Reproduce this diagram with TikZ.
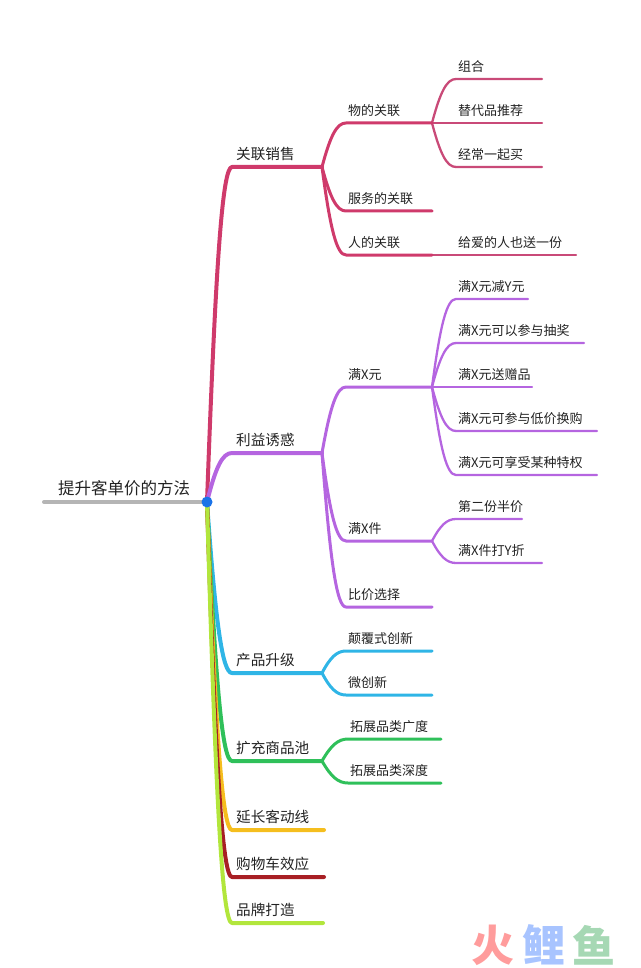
\documentclass[tikz,border=0pt]{standalone}
\usepackage{fontspec}
\setmainfont{Noto Sans CJK SC}
\usetikzlibrary{calc}
\definecolor{cred}{HTML}{CF3A6B}
\definecolor{cred3}{HTML}{C94A78}
\definecolor{cpur}{HTML}{B565E0}
\definecolor{ccya}{HTML}{2FB5E6}
\definecolor{cgre}{HTML}{2FC05A}
\definecolor{cyel}{HTML}{F5BE1E}
\definecolor{cdar}{HTML}{A81F24}
\definecolor{clim}{HTML}{B2E63C}
\definecolor{cgray}{HTML}{B5B5B5}
\definecolor{cdot}{HTML}{1A73E8}
\definecolor{ctxt}{HTML}{222222}
\definecolor{wred}{HTML}{FF9C9C}
\definecolor{wblu}{HTML}{A8C4FF}
\definecolor{wgre}{HTML}{A6D8B4}
\tikzset{
  x=1pt,y=-1pt,
  lab/.style={anchor=west,inner sep=0pt,yshift=-1pt,text=ctxt,font=\fontsize{13}{13}\selectfont},
  labb/.style={anchor=west,inner sep=0pt,yshift=-1pt,text=ctxt,font=\fontsize{14.6}{15}\selectfont},
  labroot/.style={anchor=west,inner sep=0pt,yshift=-1pt,text=ctxt,font=\fontsize{16.5}{17}\selectfont},
  wm/.style={anchor=center,inner sep=0pt,font=\fontsize{43}{43}\selectfont\bfseries},
  lone/.style={line width=4pt,line cap=round,line join=round},
  ltwo/.style={line width=3pt,line cap=round,line join=round},
  lthree/.style={line width=2.3pt,line cap=round,line join=round},
}
% \conn{style}{from}{corner}{end}
\newcommand{\conn}[4]{%
  \draw[#1] let \p1=(#2),\p2=(#3) in (#2)
    .. controls ({\x1+0.35*(\x2-\x1)},{\y1+0.72*(\y2-\y1)}) and ({\x1+0.62*(\x2-\x1)},\y2) .. (#3) -- (#4);}
\newcommand{\pt}[3]{\coordinate (#1) at (#2,#3);}
\begin{document}
\begin{tikzpicture}
\useasboundingbox (0,0) rectangle (640,968);
\pt{root}{207}{502}\pt{rootl}{44}{502}
% root
\draw[lone,cgray] (rootl) -- (root);
\node[labroot] (tRoot) at (58,487) {提升客单价的方法};
% red family
\pt{a1}{322}{167}\pt{a1c}{232}{167}
\pt{a11}{432}{123}\pt{a11c}{346}{123}
\pt{a12}{432}{211}\pt{a12c}{346}{211}
\pt{a13}{432}{255}\pt{a13c}{346}{255}
\pt{a111}{542}{79}\pt{a111c}{456}{79}
\pt{a112}{542}{123}
\pt{a113}{542}{167}\pt{a113c}{456}{167}
\pt{a131}{576}{255}
\begin{scope}[cred]
\conn{lthree,cred3}{a11}{a111c}{a111}
\draw[lthree,cred3] (a11) -- (a112);
\conn{lthree,cred3}{a11}{a113c}{a113}
\draw[lthree,cred3] (a13) -- (a131);
\conn{ltwo}{a1}{a11c}{a11}
\conn{ltwo}{a1}{a12c}{a12}
\conn{ltwo}{a1}{a13c}{a13}
\conn{lone}{root}{a1c}{a1}
\end{scope}
\node[labb] (t1) at (236,153) {关联销售};
\node[lab] (t11) at (348,110) {物的关联};
\node[lab] (t12) at (348,198) {服务的关联};
\node[lab] (t13) at (348,242) {人的关联};
\node[lab] (t111) at (458,66) {组合};
\node[lab] (t112) at (458,110) {替代品推荐};
\node[lab] (t113) at (458,154) {经常一起买};
\node[lab] (t131) at (458,242) {给爱的人也送一份};
% purple family
\pt{b1}{322}{453}\pt{b1c}{232}{453}
\pt{b11}{432}{387}\pt{b11c}{346}{387}
\pt{b12}{432}{541}\pt{b12c}{346}{541}
\pt{b13}{432}{607}\pt{b13c}{346}{607}
\pt{b111}{528}{299}\pt{b111c}{456}{299}
\pt{b112}{584}{343}\pt{b112c}{456}{343}
\pt{b113}{532}{387}
\pt{b114}{597}{431}\pt{b114c}{456}{431}
\pt{b115}{597}{475}\pt{b115c}{456}{475}
\pt{b121}{522}{519}\pt{b121c}{456}{519}
\pt{b122}{542}{563}\pt{b122c}{456}{563}
\begin{scope}[cpur]
\conn{lthree}{b11}{b111c}{b111}
\conn{lthree}{b11}{b112c}{b112}
\draw[lthree] (b11) -- (b113);
\conn{lthree}{b11}{b114c}{b114}
\conn{lthree}{b11}{b115c}{b115}
\conn{lthree}{b12}{b121c}{b121}
\conn{lthree}{b12}{b122c}{b122}
\conn{ltwo}{b1}{b11c}{b11}
\conn{ltwo}{b1}{b12c}{b12}
\conn{ltwo}{b1}{b13c}{b13}
\conn{lone}{root}{b1c}{b1}
\end{scope}
\node[labb] (t2) at (236,439) {利益诱惑};
\node[lab] (t21) at (348,374) {满X元};
\node[lab] (t22) at (348,528) {满X件};
\node[lab] (t23) at (348,594) {比价选择};
\node[lab] (t211) at (458,286) {满X元减Y元};
\node[lab] (t212) at (458,330) {满X元可以参与抽奖};
\node[lab] (t213) at (458,374) {满X元送赠品};
\node[lab] (t214) at (458,418) {满X元可参与低价换购};
\node[lab] (t215) at (458,462) {满X元可享受某种特权};
\node[lab] (t221) at (458,506) {第二份半价};
\node[lab] (t222) at (458,550) {满X件打Y折};
% cyan
\pt{c1}{322}{673}\pt{c1c}{232}{673}
\pt{c11}{432}{651}\pt{c11c}{346}{651}
\pt{c12}{432}{695}\pt{c12c}{346}{695}
\begin{scope}[ccya]
\conn{ltwo}{c1}{c11c}{c11}
\conn{ltwo}{c1}{c12c}{c12}
\conn{lone}{root}{c1c}{c1}
\end{scope}
\node[labb] (t3) at (236,659) {产品升级};
\node[lab] (t31) at (348,638) {颠覆式创新};
\node[lab] (t32) at (348,682) {微创新};
% green
\pt{d1}{322}{761}\pt{d1c}{232}{761}
\pt{d11}{441}{739}\pt{d11c}{348}{739}
\pt{d12}{441}{783}\pt{d12c}{348}{783}
\begin{scope}[cgre]
\conn{ltwo}{d1}{d11c}{d11}
\conn{ltwo}{d1}{d12c}{d12}
\conn{lone}{root}{d1c}{d1}
\end{scope}
\node[labb] (t4) at (236,747) {扩充商品池};
\node[lab] (t41) at (350,726) {拓展品类广度};
\node[lab] (t42) at (350,770) {拓展品类深度};
% singles
\pt{e1}{324}{830}\pt{e1c}{232}{830}
\pt{f1}{324}{877}\pt{f1c}{232}{877}
\pt{g1}{323}{923}\pt{g1c}{232}{923}
\conn{lone,cyel}{root}{e1c}{e1}
\conn{lone,cdar}{root}{f1c}{f1}
\conn{lone,clim}{root}{g1c}{g1}
\node[labb] (t5) at (236,816) {延长客动线};
\node[labb] (t6) at (236,863) {购物车效应};
\node[labb] (t7) at (236,909) {品牌打造};
% dot
\fill[cdot] (root) circle (5.5);
% watermark
\node[wm,text=wred] (w1) at (493,945) {火};
\node[wm,text=wblu] (w2) at (544,945) {鲤};
\node[wm,text=wgre] (w3) at (594,945) {鱼};
\end{tikzpicture}
\end{document}
